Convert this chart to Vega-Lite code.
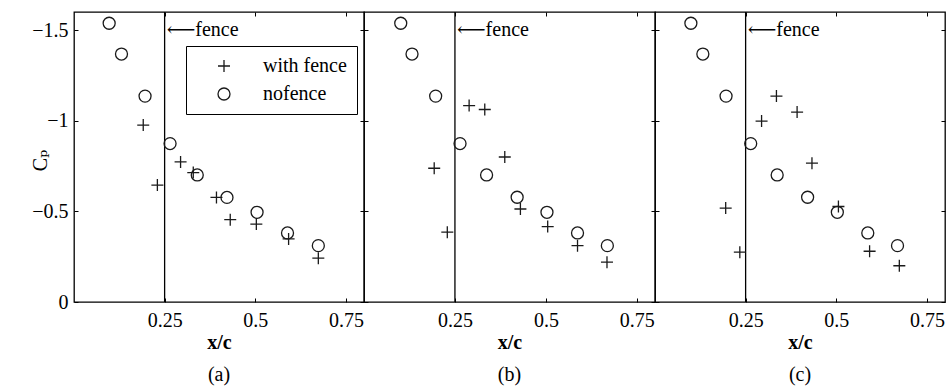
{
  "$schema": "https://vega.github.io/schema/vega-lite/v6.json",
  "padding": {"left": 29, "top": 10, "right": 0, "bottom": 0},
  "background": "white",
  "spacing": 0,
  "bounds": "flush",
  "data": {"values": [
    {"panel": "a", "series": "nofence", "x": 0.097, "cp": -1.538},
    {"panel": "a", "series": "nofence", "x": 0.131, "cp": -1.368},
    {"panel": "a", "series": "nofence", "x": 0.196, "cp": -1.136},
    {"panel": "a", "series": "nofence", "x": 0.265, "cp": -0.874},
    {"panel": "a", "series": "nofence", "x": 0.340, "cp": -0.701},
    {"panel": "a", "series": "nofence", "x": 0.422, "cp": -0.577},
    {"panel": "a", "series": "nofence", "x": 0.505, "cp": -0.495},
    {"panel": "a", "series": "nofence", "x": 0.589, "cp": -0.381},
    {"panel": "a", "series": "nofence", "x": 0.674, "cp": -0.311},
    {"panel": "a", "series": "with fence", "x": 0.191, "cp": -0.976},
    {"panel": "a", "series": "with fence", "x": 0.230, "cp": -0.645},
    {"panel": "a", "series": "with fence", "x": 0.294, "cp": -0.773},
    {"panel": "a", "series": "with fence", "x": 0.329, "cp": -0.714},
    {"panel": "a", "series": "with fence", "x": 0.393, "cp": -0.577},
    {"panel": "a", "series": "with fence", "x": 0.431, "cp": -0.454},
    {"panel": "a", "series": "with fence", "x": 0.503, "cp": -0.430},
    {"panel": "a", "series": "with fence", "x": 0.592, "cp": -0.348},
    {"panel": "a", "series": "with fence", "x": 0.674, "cp": -0.242},
    {"panel": "b", "series": "nofence", "x": 0.101, "cp": -1.538},
    {"panel": "b", "series": "nofence", "x": 0.132, "cp": -1.368},
    {"panel": "b", "series": "nofence", "x": 0.197, "cp": -1.136},
    {"panel": "b", "series": "nofence", "x": 0.264, "cp": -0.874},
    {"panel": "b", "series": "nofence", "x": 0.337, "cp": -0.701},
    {"panel": "b", "series": "nofence", "x": 0.421, "cp": -0.578},
    {"panel": "b", "series": "nofence", "x": 0.503, "cp": -0.495},
    {"panel": "b", "series": "nofence", "x": 0.587, "cp": -0.381},
    {"panel": "b", "series": "nofence", "x": 0.669, "cp": -0.311},
    {"panel": "b", "series": "with fence", "x": 0.193, "cp": -0.738},
    {"panel": "b", "series": "with fence", "x": 0.229, "cp": -0.385},
    {"panel": "b", "series": "with fence", "x": 0.289, "cp": -1.084},
    {"panel": "b", "series": "with fence", "x": 0.332, "cp": -1.062},
    {"panel": "b", "series": "with fence", "x": 0.387, "cp": -0.800},
    {"panel": "b", "series": "with fence", "x": 0.430, "cp": -0.513},
    {"panel": "b", "series": "with fence", "x": 0.505, "cp": -0.416},
    {"panel": "b", "series": "with fence", "x": 0.587, "cp": -0.311},
    {"panel": "b", "series": "with fence", "x": 0.668, "cp": -0.220},
    {"panel": "c", "series": "nofence", "x": 0.099, "cp": -1.538},
    {"panel": "c", "series": "nofence", "x": 0.132, "cp": -1.368},
    {"panel": "c", "series": "nofence", "x": 0.196, "cp": -1.136},
    {"panel": "c", "series": "nofence", "x": 0.264, "cp": -0.874},
    {"panel": "c", "series": "nofence", "x": 0.337, "cp": -0.701},
    {"panel": "c", "series": "nofence", "x": 0.421, "cp": -0.578},
    {"panel": "c", "series": "nofence", "x": 0.503, "cp": -0.495},
    {"panel": "c", "series": "nofence", "x": 0.587, "cp": -0.381},
    {"panel": "c", "series": "nofence", "x": 0.669, "cp": -0.311},
    {"panel": "c", "series": "with fence", "x": 0.335, "cp": -1.136},
    {"panel": "c", "series": "with fence", "x": 0.392, "cp": -1.048},
    {"panel": "c", "series": "with fence", "x": 0.294, "cp": -0.998},
    {"panel": "c", "series": "with fence", "x": 0.433, "cp": -0.766},
    {"panel": "c", "series": "with fence", "x": 0.195, "cp": -0.518},
    {"panel": "c", "series": "with fence", "x": 0.234, "cp": -0.275},
    {"panel": "c", "series": "with fence", "x": 0.506, "cp": -0.527},
    {"panel": "c", "series": "with fence", "x": 0.592, "cp": -0.280},
    {"panel": "c", "series": "with fence", "x": 0.674, "cp": -0.200}
  ]},
  "resolve": {"scale": {"shape": "independent"}, "legend": {"shape": "independent"}},
  "hconcat": [
    {
      "width": 290, "height": 290,
      "title": {"text": "(a)", "orient": "bottom"},
      "layer": [
        {"data": {"values": [{"x": 0.25}]}, "mark": {"type": "rule", "color": "black", "strokeWidth": 1.3},
         "encoding": {"x": {"field": "x", "type": "quantitative", "scale": {"domain": [0, 0.8], "nice": false, "zero": false}, "axis": null}}},
        {"transform": [{"filter": "datum.panel === 'a'"}],
         "mark": {"type": "point", "filled": false, "size": 144, "strokeWidth": 1.3, "color": "#1a1a1a", "opacity": 1},
         "encoding": {
           "x": {"field": "x", "type": "quantitative", "scale": {"domain": [0, 0.8], "nice": false, "zero": false},
                 "axis": {"orient": "bottom", "values": [0.25, 0.5, 0.75], "labelExpr": "datum.value + ''", "title": "x/c"}},
           "y": {"field": "cp", "type": "quantitative", "scale": {"domain": [-1.6, 0], "reverse": true, "nice": false, "zero": false},
                 "axis": {"orient": "left", "values": [-1.5, -1, -0.5, 0], "labelExpr": "datum.value < 0 ? '\u2212' + (-datum.value) : '0'", "title": "C\u209a", "titleFontWeight": "normal", "titleX": -28, "titleY": 148, "titleAlign": "center", "titleBaseline": "alphabetic", "titleAngle": -90}},
           "shape": {"field": "series", "type": "nominal", "scale": {"domain": ["with fence", "nofence"], "range": ["M-1,0L1,0M0,-1L0,1", "circle"]},
                     "legend": {"orient": "none", "legendX": 112, "legendY": 34, "title": null, "padding": 10, "rowPadding": 8, "symbolOffset": 18, "labelOffset": 29, "strokeColor": "black", "fillColor": "white", "symbolSize": 144, "symbolStrokeWidth": 1.3, "symbolStrokeColor": "#1a1a1a", "labelFont": "'Liberation Serif', 'DejaVu Serif', serif", "labelFontSize": 20, "labelColor": "black"}}
         }},
        {"data": {"values": [{"x": 0.25, "cp": -1.5, "label": "\u27f5fence"}]},
         "mark": {"type": "text", "align": "left", "baseline": "middle", "dx": 2, "font": "'Liberation Serif', 'DejaVu Serif', serif", "fontSize": 20, "color": "black"},
         "encoding": {
           "x": {"field": "x", "type": "quantitative", "scale": {"domain": [0, 0.8], "nice": false, "zero": false}, "axis": {"orient": "top", "values": [0.25, 0.5, 0.75], "labels": false, "title": null}},
           "y": {"field": "cp", "type": "quantitative", "scale": {"domain": [-1.6, 0], "reverse": true, "nice": false, "zero": false}, "axis": {"orient": "right", "values": [-1.5, -1, -0.5, 0], "labels": false, "title": null}},
           "text": {"field": "label"}
         }}
      ],
      "resolve": {"axis": {"x": "independent", "y": "independent"}}
    },
    {
      "width": 291, "height": 290,
      "title": {"text": "(b)", "orient": "bottom"},
      "layer": [
        {"data": {"values": [{"x": 0.25}]}, "mark": {"type": "rule", "color": "black", "strokeWidth": 1.3},
         "encoding": {"x": {"field": "x", "type": "quantitative", "scale": {"domain": [0, 0.8], "nice": false, "zero": false}, "axis": null}}},
        {"transform": [{"filter": "datum.panel === 'b'"}],
         "mark": {"type": "point", "filled": false, "size": 144, "strokeWidth": 1.3, "color": "#1a1a1a", "opacity": 1},
         "encoding": {
           "x": {"field": "x", "type": "quantitative", "scale": {"domain": [0, 0.8], "nice": false, "zero": false},
                 "axis": {"orient": "bottom", "values": [0.25, 0.5, 0.75], "labelExpr": "datum.value + ''", "title": "x/c"}},
           "y": {"field": "cp", "type": "quantitative", "scale": {"domain": [-1.6, 0], "reverse": true, "nice": false, "zero": false},
                 "axis": {"orient": "left", "values": [-1.5, -1, -0.5, 0], "labels": false, "title": null}},
           "shape": {"field": "series", "type": "nominal", "scale": {"domain": ["with fence", "nofence"], "range": ["M-1,0L1,0M0,-1L0,1", "circle"]}, "legend": null}
         }},
        {"data": {"values": [{"x": 0.25, "cp": -1.5, "label": "\u27f5fence"}]},
         "mark": {"type": "text", "align": "left", "baseline": "middle", "dx": 2, "font": "'Liberation Serif', 'DejaVu Serif', serif", "fontSize": 20, "color": "black"},
         "encoding": {
           "x": {"field": "x", "type": "quantitative", "scale": {"domain": [0, 0.8], "nice": false, "zero": false}, "axis": {"orient": "top", "values": [0.25, 0.5, 0.75], "labels": false, "title": null}},
           "y": {"field": "cp", "type": "quantitative", "scale": {"domain": [-1.6, 0], "reverse": true, "nice": false, "zero": false}, "axis": {"orient": "right", "values": [-1.5, -1, -0.5, 0], "labels": false, "title": null}},
           "text": {"field": "label"}
         }}
      ],
      "resolve": {"axis": {"x": "independent", "y": "independent"}}
    },
    {
      "width": 290, "height": 290,
      "title": {"text": "(c)", "orient": "bottom"},
      "layer": [
        {"data": {"values": [{"x": 0.25}]}, "mark": {"type": "rule", "color": "black", "strokeWidth": 1.3},
         "encoding": {"x": {"field": "x", "type": "quantitative", "scale": {"domain": [0, 0.8], "nice": false, "zero": false}, "axis": null}}},
        {"transform": [{"filter": "datum.panel === 'c'"}],
         "mark": {"type": "point", "filled": false, "size": 144, "strokeWidth": 1.3, "color": "#1a1a1a", "opacity": 1},
         "encoding": {
           "x": {"field": "x", "type": "quantitative", "scale": {"domain": [0, 0.8], "nice": false, "zero": false},
                 "axis": {"orient": "bottom", "values": [0.25, 0.5, 0.75], "labelExpr": "datum.value + ''", "title": "x/c"}},
           "y": {"field": "cp", "type": "quantitative", "scale": {"domain": [-1.6, 0], "reverse": true, "nice": false, "zero": false},
                 "axis": {"orient": "left", "values": [-1.5, -1, -0.5, 0], "labels": false, "title": null}},
           "shape": {"field": "series", "type": "nominal", "scale": {"domain": ["with fence", "nofence"], "range": ["M-1,0L1,0M0,-1L0,1", "circle"]}, "legend": null}
         }},
        {"data": {"values": [{"x": 0.25, "cp": -1.5, "label": "\u27f5fence"}]},
         "mark": {"type": "text", "align": "left", "baseline": "middle", "dx": 2, "font": "'Liberation Serif', 'DejaVu Serif', serif", "fontSize": 20, "color": "black"},
         "encoding": {
           "x": {"field": "x", "type": "quantitative", "scale": {"domain": [0, 0.8], "nice": false, "zero": false}, "axis": {"orient": "top", "values": [0.25, 0.5, 0.75], "labels": false, "title": null}},
           "y": {"field": "cp", "type": "quantitative", "scale": {"domain": [-1.6, 0], "reverse": true, "nice": false, "zero": false}, "axis": {"orient": "right", "values": [-1.5, -1, -0.5, 0], "labels": false, "title": null}},
           "text": {"field": "label"}
         }}
      ],
      "resolve": {"axis": {"x": "independent", "y": "independent"}}
    }
  ],
  "config": {
    "view": {"stroke": "black", "strokeWidth": 1.3},
    "axis": {"domain": false, "grid": false, "tickSize": -4, "tickColor": "black", "tickWidth": 1,
             "labelFont": "'Liberation Serif', 'DejaVu Serif', serif", "labelFontSize": 20, "labelColor": "black", "labelPadding": 12,
             "labelFlush": false, "labelOverlap": false, "labelBound": false,
             "titleFont": "'Liberation Serif', 'DejaVu Serif', serif", "titleFontSize": 20, "titleColor": "black", "titleFontWeight": "bold", "titlePadding": 2},
    "axisLeft": {"labelPadding": 10},
    "title": {"font": "'Liberation Serif', 'DejaVu Serif', serif", "fontSize": 20, "fontWeight": "normal", "color": "black", "offset": 13, "anchor": "middle"}
  }
}
